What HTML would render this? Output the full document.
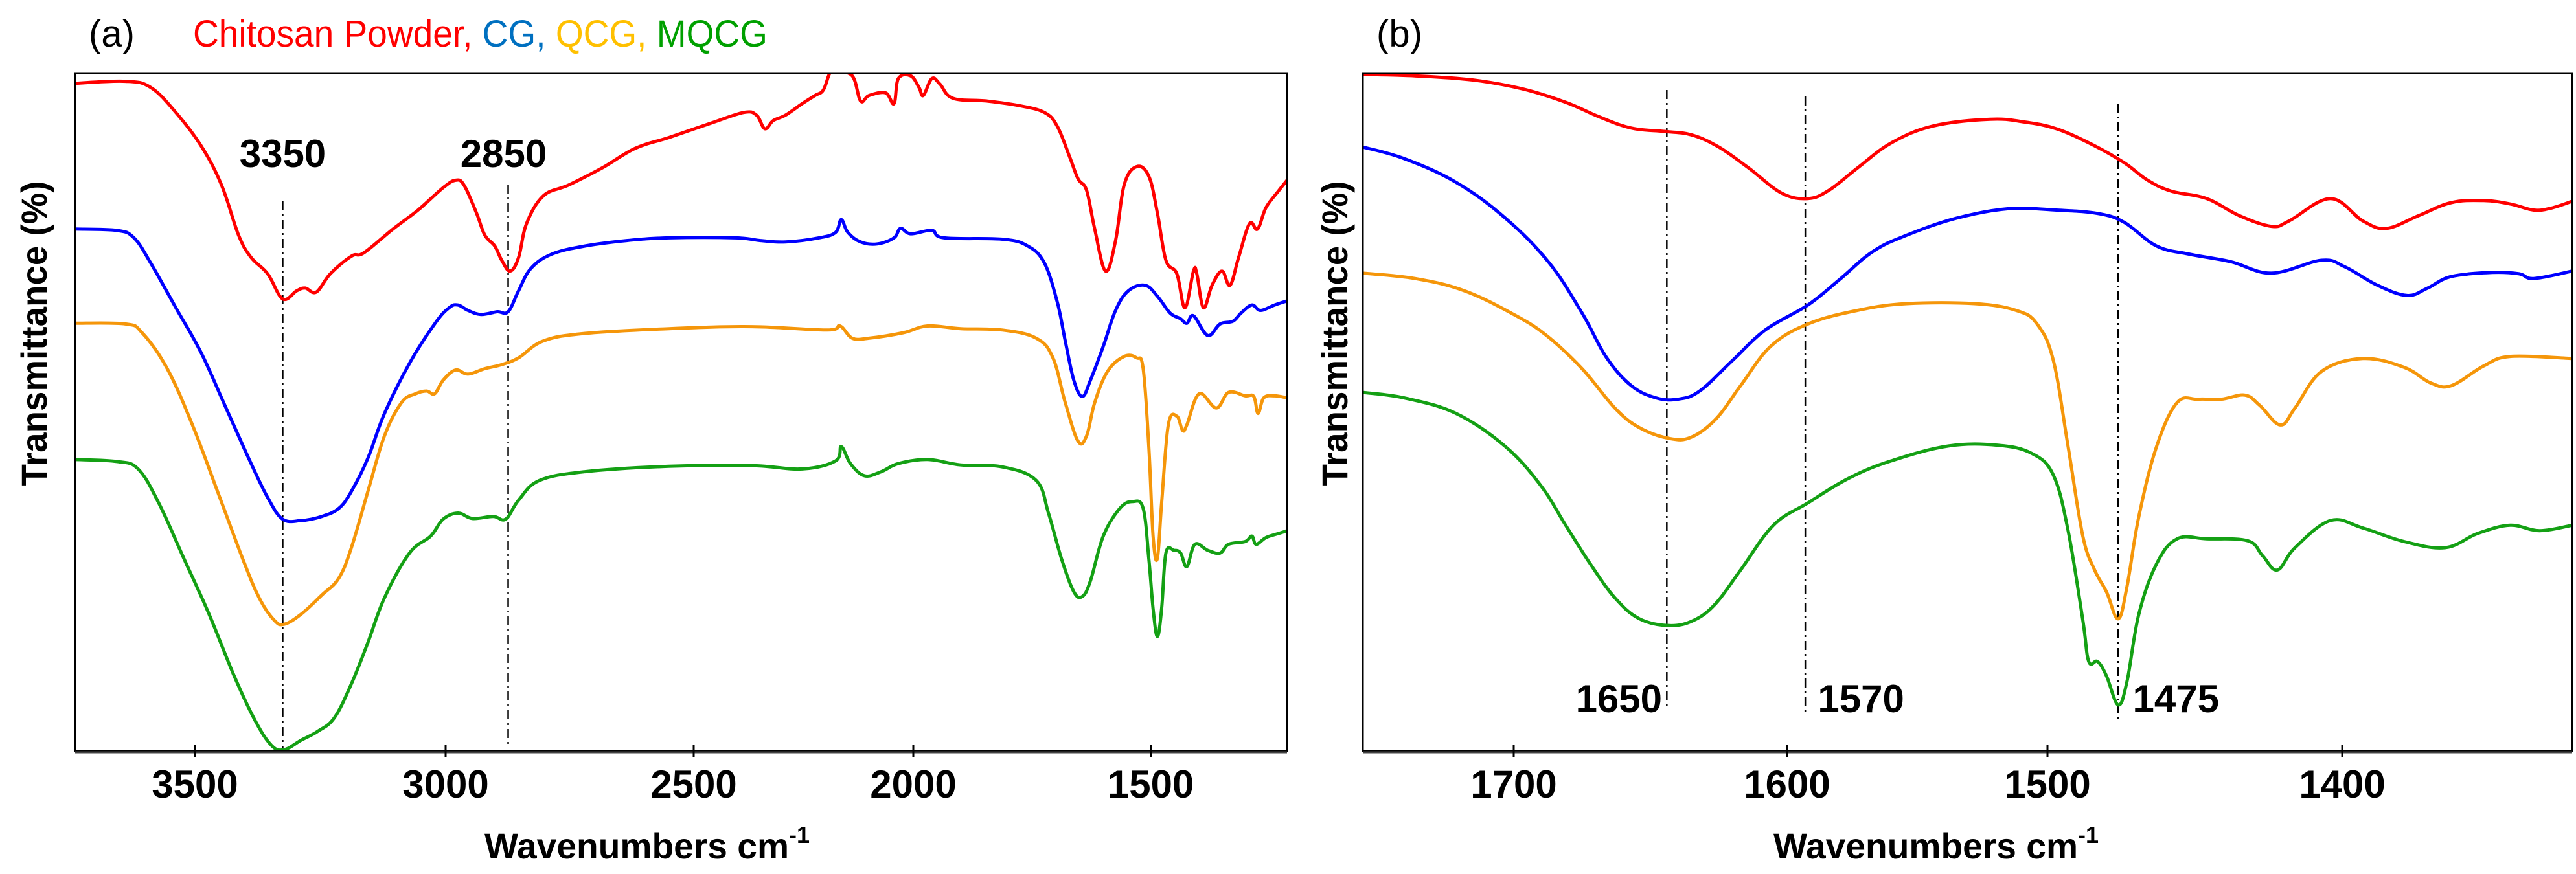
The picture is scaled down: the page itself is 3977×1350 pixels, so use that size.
<!DOCTYPE html>
<html><head><meta charset="utf-8"><style>
html,body{margin:0;padding:0;background:#fff;}
svg{display:block;font-family:"Liberation Sans",sans-serif;}
</style></head><body>
<svg id="chart" width="3977" height="1350" viewBox="0 0 3977 1350" xmlns="http://www.w3.org/2000/svg">
<rect x="0" y="0" width="3977" height="1350" fill="#fff"/>
<text x="137" y="72" font-size="58">(a)</text>
<text x="298" y="72" font-size="58" textLength="887" lengthAdjust="spacingAndGlyphs"><tspan fill="#ff0000">Chitosan Powder, </tspan><tspan fill="#0070c0">CG, </tspan><tspan fill="#ffc000">QCG, </tspan><tspan fill="#00a000">MQCG</tspan></text>
<text x="2125" y="72" font-size="58">(b)</text>
<g id="pa"></g>
<g id="pb"></g>
<text transform="translate(72,515) rotate(-90)" text-anchor="middle" font-size="56" font-weight="bold" textLength="471" lengthAdjust="spacingAndGlyphs">Transmittance (%)</text>
<text transform="translate(2080,515) rotate(-90)" text-anchor="middle" font-size="56" font-weight="bold" textLength="471" lengthAdjust="spacingAndGlyphs">Transmittance (%)</text>
<text x="748" y="1326" font-size="56" font-weight="bold"><tspan textLength="470" lengthAdjust="spacingAndGlyphs">Wavenumbers cm</tspan><tspan font-size="36" dy="-24">-1</tspan></text>
<text x="2738" y="1326" font-size="56" font-weight="bold"><tspan textLength="470" lengthAdjust="spacingAndGlyphs">Wavenumbers cm</tspan><tspan font-size="36" dy="-24">-1</tspan></text>
</svg>
<script>
// ---- Panel (a) data ----
const aTicks = [3500, 3000, 2500, 2000, 1500];
const aRedX = [3738,3638,3588,3538,3488,3447,3413,3388,3355,3325,3297,3280,3258,3230,3188,3163,3105,3055,3005,2980,2963,2938,2921,2901,2887,2870,2853,2837,2803,2752,2685,2618,2550,2462,2386,2357,2338,2319,2291,2253,2224,2205,2190,2177,2139,2120,2101,2063,2044,2034,2006,1988,1979,1961,1944,1917,1847,1776,1724,1697,1671,1653,1635,1618,1595,1574,1556,1530,1504,1486,1468,1445,1428,1410,1403,1389,1371,1350,1333,1315,1292,1275,1257,1230,1213];
const aRedY = [98.5,98.8,97.9,94.2,89.3,83.5,76.1,72.8,70.4,66.7,67.9,68.3,67.7,70.4,73.0,73.5,77.0,79.8,83.1,84.2,83.5,79.4,76.1,74.5,72.4,70.8,72.8,77.8,81.9,83.5,86.0,88.9,90.5,92.6,94.2,93.8,91.8,93.0,93.8,95.5,96.7,97.5,100,100.2,99.6,95.9,96.7,97.1,95.5,99.2,99.6,97.9,96.7,99.2,98.4,96.3,95.9,95.2,94.2,92.2,87.7,84.4,82.7,77.0,70.8,75.3,83.5,86.2,84.8,79.4,72.4,70.4,65.4,70.8,70.4,65.4,68.7,70.8,68.7,72.8,77.8,77.0,80.2,82.7,84.2];
const aBlueX = [3738,3655,3621,3588,3538,3488,3438,3388,3355,3325,3288,3247,3213,3188,3155,3122,3072,3022,2993,2975,2955,2929,2896,2874,2853,2828,2786,2719,2635,2550,2405,2348,2291,2215,2177,2164,2149,2120,2082,2044,2029,2006,1961,1935,1812,1759,1724,1697,1680,1662,1644,1627,1600,1574,1547,1512,1486,1459,1438,1424,1410,1380,1354,1327,1310,1287,1269,1239,1213];
const aBlueY = [77.0,76.8,75.7,72.0,65.4,58.8,50.6,42.4,37.4,34.2,34.0,34.6,35.8,38.3,43.2,49.8,57.2,63.0,65.4,65.8,65.0,64.4,64.8,64.8,67.9,71.2,73.3,74.5,75.3,75.7,75.7,75.3,75.1,75.7,76.5,78.4,76.5,75.1,74.8,75.7,77.1,76.3,76.8,75.7,75.5,74.5,72.0,66.3,60.5,54.7,52.3,54.7,59.7,65.0,67.9,68.7,67.1,64.6,63.8,63.1,64.2,61.3,63.0,63.4,64.6,65.8,65.0,65.8,66.4];
const aOrangeX = [3738,3638,3605,3555,3505,3455,3405,3372,3342,3322,3288,3247,3213,3188,3155,3122,3088,3060,3038,3022,3005,2980,2955,2921,2887,2853,2803,2719,2550,2367,2196,2167,2139,2101,2023,1970,1900,1812,1741,1706,1680,1653,1635,1618,1591,1556,1530,1516,1504,1495,1486,1477,1463,1445,1433,1424,1398,1362,1336,1301,1283,1274,1262,1239,1213];
const aOrangeY = [63.1,63.0,61.7,56.4,48.1,38.3,28.4,22.6,19.3,18.7,20.2,23.0,25.5,30.0,38.3,46.5,51.4,52.7,53.1,52.7,54.7,56.2,55.6,56.4,57.0,58.0,60.5,61.6,62.3,62.6,62.1,62.7,60.9,60.9,61.7,62.7,62.3,62.1,60.9,58.0,51.4,45.7,46.5,51.4,56.0,58.2,58.0,56.4,44.9,31.7,28.4,36.6,48.1,49.4,47.3,48.1,52.7,50.6,52.9,52.4,52.3,49.8,52.1,52.4,52.1];
const aGreenX = [3738,3655,3613,3572,3522,3472,3422,3380,3347,3322,3288,3255,3222,3188,3155,3122,3072,3030,3005,2975,2946,2904,2879,2853,2811,2719,2550,2367,2253,2177,2164,2143,2111,2073,2034,1970,1900,1812,1741,1715,1688,1662,1644,1627,1600,1565,1538,1516,1504,1495,1486,1477,1468,1451,1437,1424,1407,1380,1354,1336,1301,1287,1278,1257,1230,1213];
const aGreenY = [43.0,42.7,41.6,36.6,28.4,20.2,11.1,4.5,0.8,0.2,1.6,2.9,4.9,9.9,16.0,22.6,29.2,31.7,34.2,35.1,34.3,34.6,34.2,37.0,39.9,41.2,42.0,42.1,41.6,42.8,44.9,42.4,40.6,41.2,42.4,43.0,42.2,41.9,39.9,35.0,28.4,23.5,22.8,25.1,31.7,35.8,36.8,35.8,28.4,21.0,16.9,21.0,29.2,29.6,29.2,27.2,30.5,29.6,29.2,30.5,30.9,31.7,30.5,31.5,32.1,32.5];
const aMarkers = [3325, 2874];
const aMarkerLabels = ["3350", "2850"];

// ---- Panel (b) data ----
const bTicks = [1700, 1600, 1500, 1400];
const bRedX = [1755,1736,1715,1697,1681,1669,1657,1645,1635,1625,1614,1602,1592,1584,1573,1560,1544,1522,1509,1497,1485,1474,1466,1458,1446,1435,1424,1418,1404,1393,1385,1374,1363,1352,1343,1335,1329,1322];
const bRedY = [99.8,99.6,99.0,97.7,95.7,93.6,91.9,91.4,90.9,89.1,86.0,82.3,81.5,82.7,86.0,89.7,92.2,93.2,92.8,91.8,89.5,86.8,84.2,82.6,81.5,79.0,77.4,78.2,81.5,78.2,77.1,79.0,80.9,81.2,80.7,79.8,80.1,81.1];
const bBlueX = [1755,1740,1721,1703,1687,1675,1666,1657,1648,1640,1632,1620,1608,1592,1580,1567,1554,1535,1515,1497,1483,1474,1463,1452,1438,1424,1407,1399,1388,1378,1371,1363,1349,1340,1335,1322];
const bBlueY = [89.1,87.4,83.9,78.6,72.0,64.6,58.0,53.9,52.1,51.9,53.1,57.6,62.1,65.8,69.5,73.7,76.1,78.6,80.0,79.8,79.3,78.0,74.5,73.3,72.2,70.5,72.4,71.4,68.7,67.2,68.3,70.0,70.6,70.4,69.7,70.8];
const bOrangeX = [1755,1736,1718,1700,1688,1675,1663,1654,1643,1635,1626,1617,1606,1592,1573,1554,1528,1512,1504,1498,1493,1488,1484,1480,1476,1473,1469,1463,1456,1449,1441,1433,1428,1421,1416,1407,1393,1379,1370,1363,1352,1343,1322];
const bOrangeY = [70.5,69.7,67.9,64.4,61.3,56.4,50.6,47.7,46.1,46.3,49.0,53.9,59.7,63.0,65.0,66.0,66.0,65.0,63.0,57.6,44.9,31.7,26.7,23.5,19.5,24.3,34.6,44.9,51.4,51.9,51.9,52.5,51.0,48.1,50.6,56.0,57.9,56.6,54.3,53.9,56.8,58.2,57.9];
const bGreenX = [1755,1740,1721,1703,1690,1681,1672,1663,1654,1643,1634,1626,1617,1605,1592,1576,1560,1538,1519,1506,1498,1493,1488,1486,1483,1480,1476,1473,1469,1463,1456,1446,1432,1427,1422,1416,1404,1393,1379,1365,1354,1343,1333,1322];
const bGreenY = [52.9,52.1,49.8,44.9,39.1,33.3,27.6,22.6,19.5,18.5,19.3,21.8,26.7,33.3,36.6,40.3,42.8,45.0,45.1,43.9,40.7,32.5,19.3,13.2,13.2,11.1,6.8,10.3,20.2,27.6,31.3,31.3,31.0,28.8,26.7,30.0,34.0,32.9,30.9,30.0,32.1,33.3,32.5,33.3];
const bMarkers = [1644, 1593, 1476];
const bMarkerLabels = ["1650", "1570", "1475"];

const NS = "http://www.w3.org/2000/svg";
const TOP = 113, BOT = 1160;
function yScale(v){ return BOT - v * (BOT - TOP) / 100; }
function makeX(domain, range){
  return function(w){
    for (let i = 0; i < domain.length - 1; i++){
      const d0 = domain[i], d1 = domain[i+1];
      if ((w <= d0 && w >= d1) || i === domain.length - 2){
        return range[i] + (w - d0) / (d1 - d0) * (range[i+1] - range[i]);
      }
    }
    return range[0];
  };
}
const xA = makeX([3738, 3500, 3000, 2500, 2000, 1213], [116, 301, 688, 1071, 1410, 1987]);
const xB = makeX([1755, 1700, 1600, 1500, 1322], [2104, 2337, 2759, 3161, 3971]);

function el(tag, attrs, parent){
  const e = document.createElementNS(NS, tag);
  for (const k in attrs) e.setAttribute(k, attrs[k]);
  parent.appendChild(e);
  return e;
}
function smoothPath(P){
  let d = "M" + P[0][0].toFixed(1) + "," + P[0][1].toFixed(1);
  const t = 0.18;
  for (let i = 0; i < P.length - 1; i++){
    const p0 = P[i-1] || P[i], p1 = P[i], p2 = P[i+1], p3 = P[i+2] || P[i+1];
    const c1x = p1[0] + (p2[0]-p0[0])*t, c1y = p1[1] + (p2[1]-p0[1])*t;
    const c2x = p2[0] - (p3[0]-p1[0])*t, c2y = p2[1] - (p3[1]-p1[1])*t;
    d += " C" + c1x.toFixed(1) + "," + c1y.toFixed(1) + " " + c2x.toFixed(1) + "," + c2y.toFixed(1) + " " + p2[0].toFixed(1) + "," + p2[1].toFixed(1);
  }
  return d;
}

function drawPanel(g, xs, left, right, ticks, series, markers, labels, markerY, labelY, labelDx){
  const clipId = g.id + "-clip";
  const defs = el("defs", {}, g);
  const cp = el("clipPath", {id: clipId}, defs);
  el("rect", {x: left, y: TOP, width: right - left, height: BOT - TOP}, cp);
  markers.forEach((m, i) => {
    const ln = el("line", {x1: xs(m), x2: xs(m), y1: markerY[i][0], y2: markerY[i][1], stroke: "#000", "stroke-width": 2.5, "stroke-dasharray": "14,6,3,6"}, g);
    
    
    const t = el("text", {x: xs(m) + labelDx[i], y: labelY[i], "font-size": 60, "font-weight": "bold", "text-anchor": "middle"}, g);
    t.textContent = labels[i];
    
    
  });
  series.forEach(s => {
    const P = s.x.map((w, i) => [xs(w), yScale(s.y[i])]);
    const pl = el("path", {d: smoothPath(P), fill: "none", stroke: s.c, "stroke-width": 5, "stroke-linejoin": "round", "clip-path": "url(#" + clipId + ")"}, g);
    
    
  });
  const fr = el("rect", {x: left, y: TOP, width: right - left, height: BOT - TOP, fill: "none", stroke: "#000", "stroke-width": 3}, g);
  
  
  el("line", {x1: left, x2: right, y1: BOT + 2, y2: BOT + 2, stroke: "#444", "stroke-width": 3}, g);
  ticks.forEach(t => {
    const tk = el("line", {x1: xs(t), x2: xs(t), y1: BOT - 10, y2: BOT + 10, stroke: "#000", "stroke-width": 3}, g);
    
    
    const tl = el("text", {x: xs(t), y: 1232, "font-size": 60, "font-weight": "bold", "text-anchor": "middle"}, g);
    tl.textContent = t;
    
    
  });
}

drawPanel(document.getElementById("pa"), xA, 116, 1987, aTicks, [
  {x: aRedX, y: aRedY, c: "#ff0000", n: "series-chitosan-powder"},
  {x: aBlueX, y: aBlueY, c: "#0000ff", n: "series-cg"},
  {x: aOrangeX, y: aOrangeY, c: "#f5960a", n: "series-qcg"},
  {x: aGreenX, y: aGreenY, c: "#14a014", n: "series-mqcg"}
], aMarkers, aMarkerLabels, [[311, 1160], [285, 1156]], [258, 258], [0, -7]);

drawPanel(document.getElementById("pb"), xB, 2104, 3971, bTicks, [
  {x: bRedX, y: bRedY, c: "#ff0000", n: "series-chitosan-powder"},
  {x: bBlueX, y: bBlueY, c: "#0000ff", n: "series-cg"},
  {x: bOrangeX, y: bOrangeY, c: "#f5960a", n: "series-qcg"},
  {x: bGreenX, y: bGreenY, c: "#14a014", n: "series-mqcg"}
], bMarkers, bMarkerLabels, [[139, 1096], [149, 1104], [160, 1117]], [1100, 1100, 1100], [-74, 86, 89]);
</script>
</body></html>
